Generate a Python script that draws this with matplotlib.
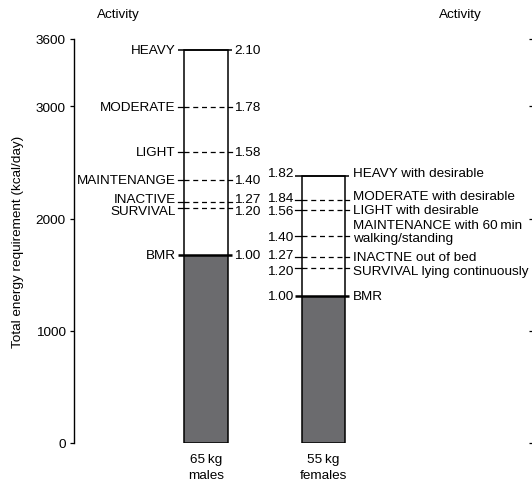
import matplotlib
matplotlib.use("Agg")
import matplotlib.pyplot as plt
from matplotlib import font_manager

# ---------------- data ----------------
categories = ["65\u2009kg\nmales", "55\u2009kg\nfemales"]
male_levels = ["HEAVY", "MODERATE", "LIGHT", "MAINTENANGE", "INACTIVE", "SURVIVAL", "BMR"]
male_factors = ["2.10", "1.78", "1.58", "1.40", "1.27", "1.20", "1.00"]
male_kcal = [3500, 2995, 2595, 2345, 2150, 2090, 1677]

female_levels = ["HEAVY with desirable", "MODERATE with desirable", "LIGHT with desirable",
                 "MAINTENANCE with 60\u2009min\nwalking/standing", "INACTNE out of bed",
                 "SURVIVAL lying continuously", "BMR"]
female_factors = ["1.82", "1.84", "1.56", "1.40", "1.27", "1.20", "1.00"]
female_kcal = [2380, 2164, 2077, 1841, 1654, 1558, 1306]

y_ticks = [0, 1000, 2000, 3000, 3600]

# ---------------- style ----------------
names = {f.name for f in font_manager.fontManager.ttflist}
fam = ["Liberation Sans Narrow", "DejaVu Sans"] if "Liberation Sans Narrow" in names else ["Liberation Sans", "DejaVu Sans"]
plt.rcParams["font.family"] = fam
FS = 9.7
FILL = "#6b6b6e"

W, H = 532, 489
fig = plt.figure(figsize=(W / 100, H / 100), dpi=100)
x_left_px, x_right_px, c0, c1 = 74, 529, 206, 323.4
ax = fig.add_axes([x_left_px / W, (489 - 444) / H, (x_right_px - x_left_px) / W, 404 / H])

ax.set_ylim(0, 3600)
scale = (c1 - c0)
ax.set_xlim((x_left_px - c0) / scale, (x_right_px - c0) / scale)

bw = 0.37
stub_l = 0.055
stub_r = 0.035

def draw_bar(x, kcal):
    top = kcal[0]
    bmr = kcal[-1]
    ax.bar(x, bmr, width=bw, color=FILL, edgecolor="none", zorder=1)
    ax.bar(x, top, width=bw, facecolor="none", edgecolor="black", linewidth=1.1, zorder=3)
    xl, xr = x - bw / 2, x + bw / 2
    for i, v in enumerate(kcal):
        if i == 0 or i == len(kcal) - 1:
            lw = 1.1 if i == 0 else 1.8
            ax.plot([xl - stub_l, xr + stub_r], [v, v], color="black", lw=lw, zorder=4,
                    solid_capstyle="butt")
        else:
            ax.plot([xl, xr], [v, v], color="black", lw=0.9, ls=(0, (4, 3)), zorder=4)
            ax.plot([xl - stub_l, xl], [v, v], color="black", lw=0.9, zorder=4)
            ax.plot([xr, xr + stub_r], [v, v], color="black", lw=0.9, zorder=4)
    return xl, xr

# males
xl, xr = draw_bar(0, male_kcal)
male_off = [0, 0, 0, 0, 3, -3, 0]
for name, fac, v, o in zip(male_levels, male_factors, male_kcal, male_off):
    ax.annotate(name, (xl - stub_l, v), xytext=(-2, o), textcoords="offset pixels",
                ha="right", va="center", fontsize=FS)
    ax.annotate(fac, (xr + stub_r, v), xytext=(2, o), textcoords="offset pixels",
                ha="left", va="center", fontsize=FS)

# females
xl, xr = draw_bar(1, female_kcal)
num_off = [3, 2, -1, -1, 2, -3, 0]
txt_off = [3, 4, 0, 5, 0, -3, 0]
for name, fac, v, no, to in zip(female_levels, female_factors, female_kcal, num_off, txt_off):
    ax.annotate(fac, (xl - stub_l, v), xytext=(-2, no), textcoords="offset pixels",
                ha="right", va="center", fontsize=FS)
    ax.annotate(name, (xr + stub_r, v), xytext=(4, to), textcoords="offset pixels",
                ha="left", va="center", fontsize=FS, linespacing=1.1)

# axes styling
ax.set_xticks([0, 1])
ax.set_xticklabels(categories, fontsize=FS, linespacing=1.45)
ax.tick_params(axis="x", length=0, pad=7)
ax.set_yticks(y_ticks)
ax.set_yticklabels([str(t) for t in y_ticks], fontsize=FS)
ax.tick_params(axis="y", direction="out", length=3, width=0.9, pad=3)
ax.tick_params(axis="y", right=True, labelright=False)
for s in ["top", "right", "bottom"]:
    ax.spines[s].set_visible(False)
ax.spines["left"].set_linewidth(1.0)
ax.set_ylabel("Total energy requirement (kcal/day)", fontsize=FS, labelpad=8)

fig.text(118 / W, 1 - 15 / H, "Activity", ha="center", va="center", fontsize=FS)
fig.text(460 / W, 1 - 15 / H, "Activity", ha="center", va="center", fontsize=FS)

fig.savefig("out.png", dpi=100)
